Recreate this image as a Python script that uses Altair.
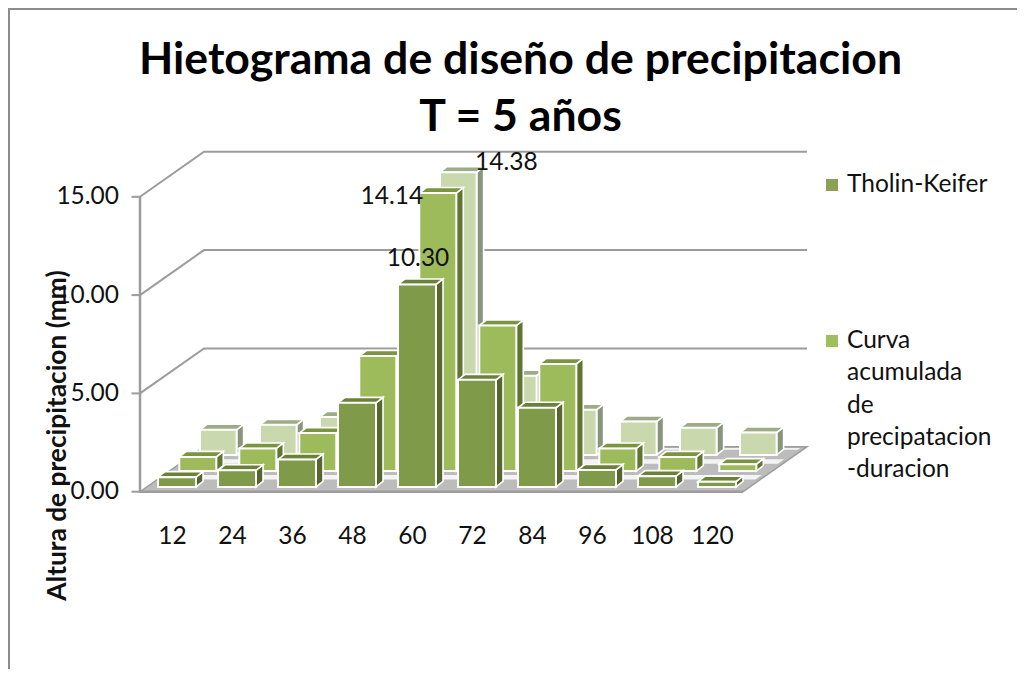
import altair as alt
import pandas as pd

minutes = [12, 24, 36, 48, 60, 72, 84, 96, 108, 120]
tholin = [0.50, 0.85, 1.40, 4.28, 10.30, 5.45, 4.03, 0.87, 0.55, 0.27]
curva = [0.72, 1.15, 1.93, 5.85, 14.14, 7.40, 5.45, 1.15, 0.72, 0.35]
tercera = [1.28, 1.53, 1.93, 3.00, 14.38, 4.03, 2.30, 1.70, 1.38, 1.14]
legend_names = ["Tholin-Keifer", "Curva\nacumulada\nde\nprecipatacion\n-duracion"]
title_lines = ["Hietograma de diseño de precipitacion", "T = 5 años"]
y_ticks = [0, 5, 10, 15]

W, H = 1009, 661
PXM = 5.0
PXV = 19.66
FONT = "Lato"
TXT = "#111111"

xs = alt.Scale(domain=[12 - (172 - 8) / PXM, 12 + (8 + W - 172) / PXM], range=[0, W], nice=False, zero=False)
ys = alt.Scale(domain=[(491.7 - 8 - H) / PXV, (491.7 - 8) / PXV], range=[H, 0], nice=False, zero=False)

xax = alt.Axis(values=minutes, title=None, offset=-(8 + H - 518), ticks=False, domain=False, grid=False,
               labelFont=FONT, labelFontSize=24.5, labelColor=TXT, labelPadding=6, labelFlush=False, labelOverlap=False)
yax = alt.Axis(values=y_ticks, format=".2f", offset=-131.5, ticks=False, domain=False, grid=False,
               labelFont=FONT, labelFontSize=24.5, labelColor=TXT, labelPadding=21,
               title="Altura de precipitacion (mm)", titleFont=FONT, titleFontSize=26.3, titleFontWeight="bold",
               titleColor=TXT, titleAngle=-90, titleX=-82.5, titleY=427, titleAlign="center", titleBaseline="middle")


def X(f="x"):
    return alt.X(f"{f}:Q", scale=xs, axis=xax)


def Y(f="y"):
    return alt.Y(f"{f}:Q", scale=ys, axis=yax, stack=None)


def para(xl, xr, dx, v, dv, key):
    pts = [(xl, v, v), (xl + dx, v, v + dv), (xr, v, v + dv), (xr + dx, v + dv, v + dv)]
    return [{"x": a, "y": b, "y2": c, "k": key} for a, b, c in pts]


def area(rows, fill, **kw):
    return alt.Chart(pd.DataFrame(rows)).mark_area(orient="vertical", fill=fill, **kw).encode(
        x=X(), y=Y(), y2=alt.Y2("y2:Q"), detail="k:N")


FL, FR = 5.6, 126.2
DM, DV = 12.8, 2.29

layers = []
# walls
wall = []
for v in y_ticks[1:]:
    wall += [{"x": FL, "y": v, "k": v}, {"x": FL + DM, "y": v + DV, "k": v}, {"x": FR + DM, "y": v + DV, "k": v}]
layers.append(alt.Chart(pd.DataFrame(wall)).mark_line(color="#9c9c9c", strokeWidth=2).encode(x=X(), y=Y(), detail="k:N"))
layers.append(alt.Chart(pd.DataFrame([{"x": FL, "y": 0}, {"x": FL, "y": 15}])).mark_line(color="#9c9c9c", strokeWidth=2.5).encode(x=X(), y=Y()))
# axis ticks on the front wall
tick_rows = [{"x": FL - 1.7, "x2": FL, "y": v} for v in y_ticks]
layers.append(alt.Chart(pd.DataFrame(tick_rows)).mark_rule(color="#9c9c9c", strokeWidth=2).encode(
    x=X(), x2=alt.X2("x2:Q"), y=Y()))
# floor
layers.append(area(para(FL, FR, DM, 0, DV, "f"), "#bcbcbc", stroke="#9c9c9c", strokeWidth=1.5))
for d1, d2 in [(0.27, 0.37), (0.62, 0.72), (0.93, 0.97)]:
    layers.append(area(para(FL + d1 * DM + 1, FR + d1 * DM - 1, (d2 - d1) * DM, d1 * DV, (d2 - d1) * DV, "b"), "#f4f4f4"))
layers.append(alt.Chart(pd.DataFrame([{"x": FL, "y": 0}, {"x": FR, "y": 0}])).mark_line(color="#9c9c9c", strokeWidth=2.5).encode(x=X(), y=Y()))

rows = [
    dict(vals=tercera, off=5.6, w=7.32, base=1.87, front="#cad8ae", top="#9dab87", side="#87957a"),
    dict(vals=curva, off=1.46, w=7.4, base=1.05, front="#9dbb5b", top="#7a9440", side="#5f7530"),
    dict(vals=tholin, off=-2.8, w=7.6, base=0.24, front="#7f9a48", top="#6a8138", side="#55672f"),
]
DDX, DDV = 1.4, 0.28
for r in rows:
    fronts, tops, sides = [], [], []
    for i, (m, val) in enumerate(zip(minutes, r["vals"])):
        x0 = m + r["off"]
        x1 = x0 + r["w"]
        b = r["base"]
        t = b + val
        fronts.append({"x": x0, "x2": x1, "y": t, "y2": b})
        tops += para(x0, x1, DDX, t, DDV, i)
        sides += [{"x": x1, "y": b, "y2": t, "k": i}, {"x": x1 + DDX, "y": b + DDV, "y2": t + DDV, "k": i}]
    layers.append(area(sides, r["side"], stroke="white", strokeWidth=1.6))
    layers.append(area(tops, r["top"], stroke="white", strokeWidth=1.6))
    layers.append(alt.Chart(pd.DataFrame(fronts)).mark_rect(fill=r["front"], stroke="white", strokeWidth=2).encode(
        x=X(), x2=alt.X2("x2:Q"), y=Y(), y2=alt.Y2("y2:Q")))

# data labels
for row, idx, dx, dy in [(0, 4, 48, -9), (1, 4, -46, 4), (2, 4, 1, -25)]:
    r = rows[row]
    m = minutes[idx]
    val = r["vals"][idx]
    d = pd.DataFrame([{"x": m + r["off"] + r["w"] / 2, "y": r["base"] + val, "t": f"{val:.2f}"}])
    layers.append(alt.Chart(d).mark_text(font=FONT, fontSize=24.5, color=TXT, dx=dx, dy=dy).encode(x=X(), y=Y(), text="t:N"))

# legend
for name, color, sy, ty in [(legend_names[0], "#8aa254", 177, 165), (legend_names[1], "#9fbf5f", 333, 321)]:
    layers.append(alt.Chart(pd.DataFrame([{"n": name}])).mark_rect(fill=color).encode(
        x=alt.value(818), x2=alt.value(830), y=alt.value(sy - 6), y2=alt.value(sy + 6)))
    layers.append(alt.Chart(pd.DataFrame([{"n": name}])).mark_text(
        font=FONT, fontSize=24.5, color=TXT, align="left", baseline="top", lineBreak="\n", lineHeight=32.3).encode(
        x=alt.value(839), y=alt.value(ty), text="n:N"))

# chart frame
layers.append(alt.Chart(pd.DataFrame([{"a": 0}])).mark_rule(color="#8c8c8c", strokeWidth=2).encode(
    x=alt.value(1), y=alt.value(0), y2=alt.value(H)))
layers.append(alt.Chart(pd.DataFrame([{"a": 0}])).mark_rule(color="#8c8c8c", strokeWidth=2).encode(
    x=alt.value(0), x2=alt.value(W), y=alt.value(1)))

chart = alt.layer(*layers).properties(
    width=W, height=H,
    autosize=alt.AutoSizeParams(type="none"),
    padding=0,
    title=alt.TitleParams(text=title_lines, font=FONT, fontSize=44.6, fontWeight="bold", color="#000000",
                          anchor="middle", frame="group", dx=8, dy=182, lineHeight=57, baseline="bottom"),
).configure_view(stroke=None)

chart.save("out.html", embed_options={"renderer": "svg", "actions": False})
